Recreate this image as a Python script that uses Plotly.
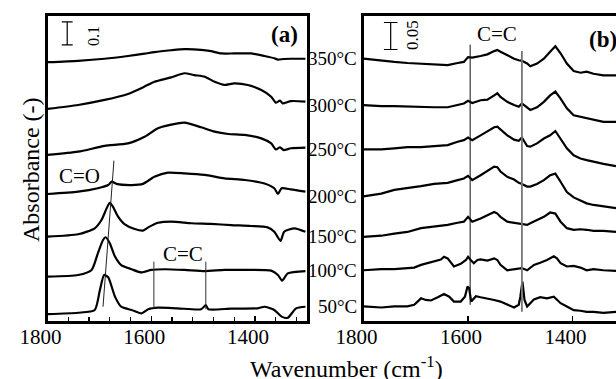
import plotly.graph_objects as go

# ---------------- data ----------------
TEMPS = ["350°C", "300°C", "250°C", "200°C", "150°C", "100°C", "50°C"]
TICKS = [1800, 1600, 1400]
CC_BANDS = [1595, 1495]          # C=C band marker positions (cm-1)
CO_BAND = [1693, 1672]           # C=O band shift marker (cm-1) from 50°C to 200°C
SCALE_A = 0.1
SCALE_B = 0.05

# panel (a): wavenumber / absorbance (offset stacked)
A350_WN = [1800, 1741, 1690, 1645, 1613, 1594, 1562, 1536, 1504, 1485, 1465, 1440, 1408, 1382, 1363, 1356, 1345, 1331, 1303]
A350 = [1.128, 1.134, 1.143, 1.155, 1.165, 1.172, 1.180, 1.185, 1.182, 1.176, 1.166, 1.166, 1.166, 1.155, 1.145, 1.139, 1.142, 1.143, 1.143]

A300_WN = [1800, 1741, 1690, 1645, 1613, 1594, 1562, 1536, 1517, 1497, 1478, 1459, 1440, 1414, 1388, 1369, 1360, 1352, 1347, 1331, 1303]
A300 = [0.925, 0.942, 0.964, 0.990, 1.022, 1.043, 1.062, 1.080, 1.072, 1.065, 1.043, 1.029, 1.036, 1.029, 1.007, 0.978, 0.952, 0.961, 0.949, 0.959, 0.957]

A250_WN = [1800, 1741, 1690, 1645, 1613, 1587, 1549, 1536, 1504, 1478, 1452, 1420, 1388, 1369, 1360, 1352, 1345, 1331, 1303]
A250 = [0.725, 0.739, 0.764, 0.775, 0.804, 0.841, 0.862, 0.865, 0.845, 0.826, 0.816, 0.812, 0.797, 0.775, 0.749, 0.758, 0.746, 0.754, 0.757]

A200_WN = [1800, 1741, 1703, 1683, 1676, 1667, 1638, 1616, 1594, 1568, 1536, 1497, 1459, 1420, 1382, 1363, 1356, 1349, 1331, 1303]
A200 = [0.555, 0.565, 0.580, 0.594, 0.609, 0.599, 0.594, 0.599, 0.630, 0.648, 0.645, 0.638, 0.623, 0.616, 0.601, 0.580, 0.555, 0.580, 0.575, 0.565]

A150_WN = [1800, 1741, 1709, 1696, 1686, 1680, 1674, 1664, 1651, 1632, 1616, 1606, 1587, 1561, 1523, 1485, 1446, 1408, 1376, 1363, 1351, 1344, 1324, 1303]
A150 = [0.370, 0.380, 0.406, 0.442, 0.493, 0.517, 0.500, 0.457, 0.423, 0.403, 0.396, 0.410, 0.430, 0.435, 0.428, 0.425, 0.420, 0.416, 0.410, 0.391, 0.351, 0.391, 0.406, 0.391]

A100_WN = [1800, 1741, 1715, 1703, 1693, 1688, 1680, 1670, 1658, 1638, 1619, 1600, 1574, 1536, 1497, 1459, 1420, 1369, 1356, 1348, 1337, 1303]
A100 = [0.196, 0.203, 0.225, 0.297, 0.355, 0.367, 0.341, 0.283, 0.246, 0.228, 0.214, 0.225, 0.228, 0.225, 0.220, 0.225, 0.225, 0.222, 0.203, 0.178, 0.210, 0.220]

A50_WN = [1800, 1741, 1709, 1699, 1691, 1683, 1670, 1658, 1638, 1619, 1606, 1587, 1549, 1504, 1495, 1490, 1446, 1395, 1382, 1363, 1349, 1337, 1321, 1303]
A50 = [0.033, 0.039, 0.051, 0.138, 0.203, 0.193, 0.109, 0.065, 0.051, 0.036, 0.054, 0.061, 0.058, 0.054, 0.072, 0.054, 0.057, 0.058, 0.065, 0.051, 0.022, 0.017, 0.058, 0.065]

# panel (b): common wavenumber grid for 350-150 °C
B_WN = [1800, 1766, 1741, 1716, 1690, 1665, 1639, 1620, 1608, 1600, 1592, 1576, 1563, 1550, 1544, 1538, 1525, 1512, 1503, 1497, 1487, 1481, 1468, 1455, 1443, 1433, 1423, 1411, 1398, 1385, 1373, 1360, 1341, 1317]
B350 = [0.481, 0.477, 0.475, 0.473, 0.472, 0.471, 0.469, 0.473, 0.475, 0.484, 0.483, 0.486, 0.489, 0.495, 0.497, 0.494, 0.487, 0.481, 0.478, 0.477, 0.472, 0.467, 0.472, 0.481, 0.494, 0.504, 0.491, 0.472, 0.458, 0.455, 0.457, 0.453, 0.450, 0.450]
B300 = [0.395, 0.393, 0.393, 0.392, 0.392, 0.391, 0.391, 0.395, 0.398, 0.403, 0.399, 0.404, 0.405, 0.413, 0.417, 0.410, 0.401, 0.395, 0.392, 0.398, 0.390, 0.386, 0.391, 0.401, 0.413, 0.420, 0.407, 0.389, 0.376, 0.373, 0.370, 0.367, 0.364, 0.364]
B250 = [0.313, 0.313, 0.315, 0.317, 0.317, 0.319, 0.321, 0.327, 0.330, 0.335, 0.330, 0.339, 0.346, 0.354, 0.355, 0.350, 0.339, 0.331, 0.329, 0.335, 0.319, 0.318, 0.324, 0.333, 0.339, 0.347, 0.333, 0.315, 0.302, 0.296, 0.293, 0.290, 0.286, 0.282]
B200 = [0.226, 0.231, 0.238, 0.241, 0.245, 0.249, 0.251, 0.256, 0.259, 0.264, 0.256, 0.265, 0.273, 0.281, 0.280, 0.272, 0.262, 0.257, 0.251, 0.249, 0.244, 0.244, 0.249, 0.256, 0.265, 0.268, 0.253, 0.234, 0.224, 0.218, 0.213, 0.210, 0.207, 0.204]
B150 = [0.151, 0.153, 0.157, 0.160, 0.167, 0.170, 0.173, 0.177, 0.179, 0.188, 0.179, 0.185, 0.191, 0.197, 0.194, 0.188, 0.179, 0.177, 0.176, 0.175, 0.173, 0.176, 0.182, 0.188, 0.196, 0.194, 0.179, 0.167, 0.164, 0.165, 0.164, 0.162, 0.162, 0.160]

B100_WN = [1800, 1766, 1741, 1716, 1703, 1690, 1677, 1665, 1652, 1646, 1639, 1627, 1614, 1604, 1600, 1595, 1589, 1582, 1576, 1563, 1550, 1544, 1538, 1525, 1512, 1497, 1487, 1474, 1462, 1449, 1436, 1430, 1423, 1411, 1398, 1385, 1373, 1360, 1341, 1317]
B100 = [0.089, 0.091, 0.091, 0.093, 0.094, 0.099, 0.102, 0.105, 0.109, 0.114, 0.111, 0.096, 0.101, 0.108, 0.114, 0.108, 0.102, 0.108, 0.109, 0.107, 0.111, 0.108, 0.099, 0.089, 0.091, 0.093, 0.089, 0.099, 0.103, 0.108, 0.115, 0.111, 0.102, 0.096, 0.097, 0.094, 0.089, 0.091, 0.089, 0.088]

B50_WN = [1800, 1766, 1741, 1716, 1703, 1690, 1681, 1671, 1658, 1646, 1636, 1627, 1614, 1606, 1601, 1598, 1594, 1585, 1576, 1563, 1550, 1538, 1525, 1512, 1503, 1500, 1496, 1492, 1487, 1474, 1462, 1449, 1436, 1423, 1411, 1398, 1385, 1373, 1360, 1341, 1317]
B50 = [0.022, 0.020, 0.022, 0.022, 0.025, 0.037, 0.034, 0.033, 0.039, 0.045, 0.040, 0.031, 0.031, 0.040, 0.059, 0.056, 0.031, 0.041, 0.039, 0.037, 0.034, 0.031, 0.025, 0.020, 0.025, 0.040, 0.068, 0.034, 0.022, 0.035, 0.039, 0.037, 0.040, 0.028, 0.022, 0.015, 0.014, 0.012, 0.012, 0.010, 0.012]

# ---------------- figure ----------------
W, H = 616, 379
FONT = "Liberation Serif"

fig = go.Figure()

left = [(A350_WN, A350), (A300_WN, A300), (A250_WN, A250), (A200_WN, A200),
        (A150_WN, A150), (A100_WN, A100), (A50_WN, A50)]
right = [(B_WN, B350), (B_WN, B300), (B_WN, B250), (B_WN, B200),
         (B_WN, B150), (B100_WN, B100), (B50_WN, B50)]

for wn, ab in left:
    fig.add_trace(go.Scatter(x=wn, y=ab, mode="lines", xaxis="x", yaxis="y",
                             line=dict(color="black", width=2.2, shape="spline", smoothing=0.6),
                             showlegend=False, hoverinfo="skip"))
for wn, ab in right:
    fig.add_trace(go.Scatter(x=wn, y=ab, mode="lines", xaxis="x2", yaxis="y2",
                             line=dict(color="black", width=2.2),
                             showlegend=False, hoverinfo="skip"))

def px_x(p):
    return p / W

def px_y(p):
    return 1 - p / H

ydom = [px_y(321), px_y(15.5)]

axis_common = dict(showline=True, linecolor="black", linewidth=2.5, showgrid=False,
                   zeroline=False, automargin=False)

fig.update_layout(
    template="none",
    width=W, height=H,
    margin=dict(l=0, r=0, t=0, b=0, pad=0),
    paper_bgcolor="white", plot_bgcolor="white",
    font=dict(family=FONT, color="black", size=21),
    xaxis=dict(domain=[px_x(47.5), px_x(307)], range=[1800, 1300], mirror=True,
               ticks="inside", tickvals=TICKS, ticklen=5, tickwidth=1.5, tickcolor="black",
               minor=dict(ticks="inside", tickvals=list(range(1800, 1299, -40)), ticklen=4,
                          tickwidth=1.2, tickcolor="black"),
               ticklabelshift=7, ticklabelstandoff=-5,
               tickfont=dict(family=FONT, size=21), anchor="y", **axis_common),
    yaxis=dict(domain=ydom, range=[0.003, 1.331], mirror=True, showticklabels=False,
               ticks="", anchor="x", **axis_common),
    xaxis2=dict(domain=[px_x(363.5), 1.0], range=[1800, 1317], mirror=True,
                ticks="inside", tickvals=TICKS, ticklen=5, tickwidth=1.5, tickcolor="black",
                ticklabelshift=7, ticklabelstandoff=-5,
                tickfont=dict(family=FONT, size=21), anchor="y2", **axis_common),
    yaxis2=dict(domain=ydom, range=[-0.005, 0.561], mirror=False, showticklabels=False,
                ticks="", anchor="x2", **axis_common),
)

shapes = []
# C=C markers panel (a)
for wn, top, bot in zip(CC_BANDS, [0.261, 0.261], [0.058, 0.054]):
    shapes.append(dict(type="line", xref="x", yref="y", x0=wn, x1=wn, y0=bot, y1=top,
                       line=dict(color="#333333", width=1)))
# C=O slanted marker
shapes.append(dict(type="line", xref="x", yref="y", x0=CO_BAND[0], x1=CO_BAND[1],
                   y0=0.065, y1=0.700, line=dict(color="#222222", width=1)))
# C=C markers panel (b)
for wn, top, bot, col, lw in zip([1596, 1497], [0.507, 0.495], [0.025, 0.012],
                                 ["#111111", "#777777"], [1, 1.8]):
    shapes.append(dict(type="line", xref="x2", yref="y2", x0=wn, x1=wn, y0=bot, y1=top,
                       line=dict(color=col, width=lw)))
# scale bars
for xr, yr, xc, y0, dx, sc in [("x", "y", 1762, 1.203, 10.5, SCALE_A),
                                ("x2", "y2", 1748, 0.498, 13, SCALE_B)]:
    shapes.append(dict(type="line", xref=xr, yref=yr, x0=xc, x1=xc, y0=y0, y1=y0 + sc,
                       line=dict(color="black", width=1.2)))
    for yy in (y0, y0 + sc):
        shapes.append(dict(type="line", xref=xr, yref=yr, x0=xc - dx, x1=xc + dx, y0=yy, y1=yy,
                           line=dict(color="black", width=1.2)))
fig.update_layout(shapes=shapes)

ann = []
def txt(text, x, y, size, **kw):
    d = dict(text=text, x=px_x(x), y=px_y(y), xref="paper", yref="paper", showarrow=False,
             font=dict(family=FONT, size=size, color="black"), xanchor="center", yanchor="middle")
    d.update(kw)
    ann.append(d)

txt("C=O", 80, 176, 21)
txt("C=C", 182.5, 254, 21)
txt("C=C", 497, 34, 21)
txt("<b>(a)</b>", 284, 34.5, 23)
txt("<b>(b)</b>", 587, 39.5, 23, xanchor="left")
txt("0.1", 93, 36, 16, textangle=-90)
txt("0.05", 413, 35, 17, textangle=-90)
txt("Absorbance (-)", 31, 170, 24, textangle=-90)
txt("Wavenumber (cm<sup>-1</sup>)", 346.7, 366.5, 24)

# temperature labels aligned with the start of each spectrum in panel (b)
for t, (wn, ab) in zip(TEMPS, right):
    ann.append(dict(text=t, x=px_x(359), y=ab[0], xref="paper", yref="y2", showarrow=False,
                    font=dict(family=FONT, size=19, color="black"),
                    xanchor="right", yanchor="middle"))

fig.update_layout(annotations=ann)

fig.write_html("out.html", config={"displayModeBar": False, "staticPlot": True},
               post_script="document.body.style.margin='0';document.body.style.overflow='hidden';")
